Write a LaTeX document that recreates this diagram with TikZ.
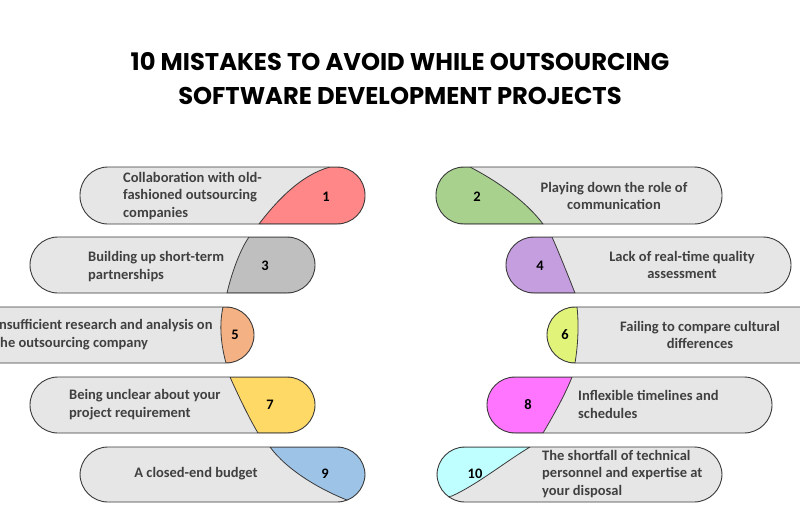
\documentclass[tikz,border=0pt]{standalone}
\usepackage{fontspec}
\setmainfont{Carlito}
\newfontfamily\titlefont{Poppins}
\usetikzlibrary{positioning}
\definecolor{pillfill}{HTML}{E7E6E6}
\definecolor{pillline}{HTML}{3A3A3A}
\definecolor{txt}{HTML}{404040}
\definecolor{c1}{HTML}{FF8787}
\definecolor{c2}{HTML}{A9D18E}
\definecolor{c3}{HTML}{BFBFBF}
\definecolor{c4}{HTML}{C59EE0}
\definecolor{c5}{HTML}{F4B183}
\definecolor{c6}{HTML}{E2F37A}
\definecolor{c7}{HTML}{FFD966}
\definecolor{c8}{HTML}{FF75FF}
\definecolor{c9}{HTML}{9DC3E6}
\definecolor{c10}{HTML}{C0FFFF}
% one pill: #1 outline box, #2 colour, #3 coloured part
\newcommand{\mistake}[3]{%
  \fill[pillfill,rounded corners=28pt] #1;
  \begin{scope}
    \clip[rounded corners=28pt] #1;
    \filldraw[fill=#2,draw=pillline,line width=0.8pt] #3;
  \end{scope}
  \draw[pill] #1;}

\begin{document}
\begin{tikzpicture}[x=1pt,y=-1pt,
  pill/.style={draw=pillline,line width=0.9pt,rounded corners=28pt},
  num/.style={font=\bfseries\fontsize{14.5}{17}\selectfont,inner sep=0},
  lbl/.style={font=\bfseries\fontsize{14.5}{17.3}\selectfont,text=txt,inner sep=0,align=left},
  lblc/.style={lbl,align=center}]
\path[use as bounding box,fill=white] (0,0) rectangle (800,530);
\clip (0,0) rectangle (800,530);

% title
\node[font=\titlefont\bfseries\fontsize{24.2}{34}\selectfont,align=center] (title) at (400,79)
  {10 MISTAKES TO AVOID WHILE OUTSOURCING\\SOFTWARE DEVELOPMENT PROJECTS};

% left column
\mistake{(80,167) rectangle (365,224)}{c1}{(259,224) .. controls (275,203) and (300,175) .. (330,167) -- (380,167) -- (380,224) -- cycle}
\mistake{(30,237) rectangle (315,293)}{c3}{(227,293) .. controls (232,272) and (240,250) .. (249,237) -- (330,237) -- (330,293) -- cycle}
\mistake{(-31,307) rectangle (254,363)}{c5}{(223,307) .. controls (219,325) and (221,345) .. (226,363) -- (270,363) -- (270,307) -- cycle}
\mistake{(30,377) rectangle (315,433)}{c7}{(230,377) .. controls (238,395) and (249,418) .. (258,433) -- (330,433) -- (330,377) -- cycle}
\mistake{(80,447) rectangle (365,502)}{c9}{(270,447) .. controls (287,470) and (320,490) .. (352,502) -- (380,502) -- (380,447) -- cycle}

% right column
\mistake{(436,167) rectangle (722,224)}{c2}{(470,167) .. controls (495,180) and (525,200) .. (543,224) -- (420,224) -- (420,167) -- cycle}
\mistake{(506,237) rectangle (791,293)}{c4}{(552,237) .. controls (560,255) and (569,278) .. (575,293) -- (490,293) -- (490,237) -- cycle}
\mistake{(547,307) rectangle (832,363)}{c6}{(577,307) .. controls (579,325) and (578,345) .. (575,363) -- (530,363) -- (530,307) -- cycle}
\mistake{(487,377) rectangle (772,433)}{c8}{(572,377) .. controls (565,395) and (552,418) .. (543,433) -- (470,433) -- (470,377) -- cycle}
\mistake{(437,447) rectangle (722,502)}{c10}{(530,447) .. controls (505,462) and (478,484) .. (452,496) -- (420,502) -- (420,447) -- cycle}

% numbers
\node[num] (n1) at (326,197) {1};
\node[num] (n3) at (265,266) {3};
\node[num] (n5) at (235,335) {5};
\node[num] (n7) at (270,405) {7};
\node[num] (n9) at (325,474) {9};
\node[num] (n2) at (477,197) {2};
\node[num] (n4) at (540,266) {4};
\node[num] (n6) at (565,335) {6};
\node[num] (n8) at (528,405) {8};
\node[num] (n10) at (475,474) {10};

% texts
\node[lbl,anchor=west] (t1) at (123,196) {Collaboration with old-\\fashioned outsourcing\\companies};
\node[lbl,anchor=west] (t3) at (88,266.5) {Building up short-term\\partnerships};
\node[lbl,anchor=west] (t5) at (-5,334.5) {Insufficient research and analysis on\\the outsourcing company};
\node[lbl,anchor=west] (t7) at (69,404.5) {Being unclear about your\\project requirement};
\node[lblc] (t9) at (196,474) {A closed-end budget};
\node[lblc] (t2) at (614,196) {Playing down the role of\\communication};
\node[lblc] (t4) at (682,265) {Lack of real-time quality\\assessment};
\node[lblc] (t6) at (700,335) {Failing to compare cultural\\differences};
\node[lbl,anchor=west] (t8) at (578,404.5) {Inflexible timelines and\\schedules};
\node[lbl,anchor=west] (t10) at (542,474) {The shortfall of technical\\personnel and expertise at\\your disposal};
\end{tikzpicture}
\end{document}
